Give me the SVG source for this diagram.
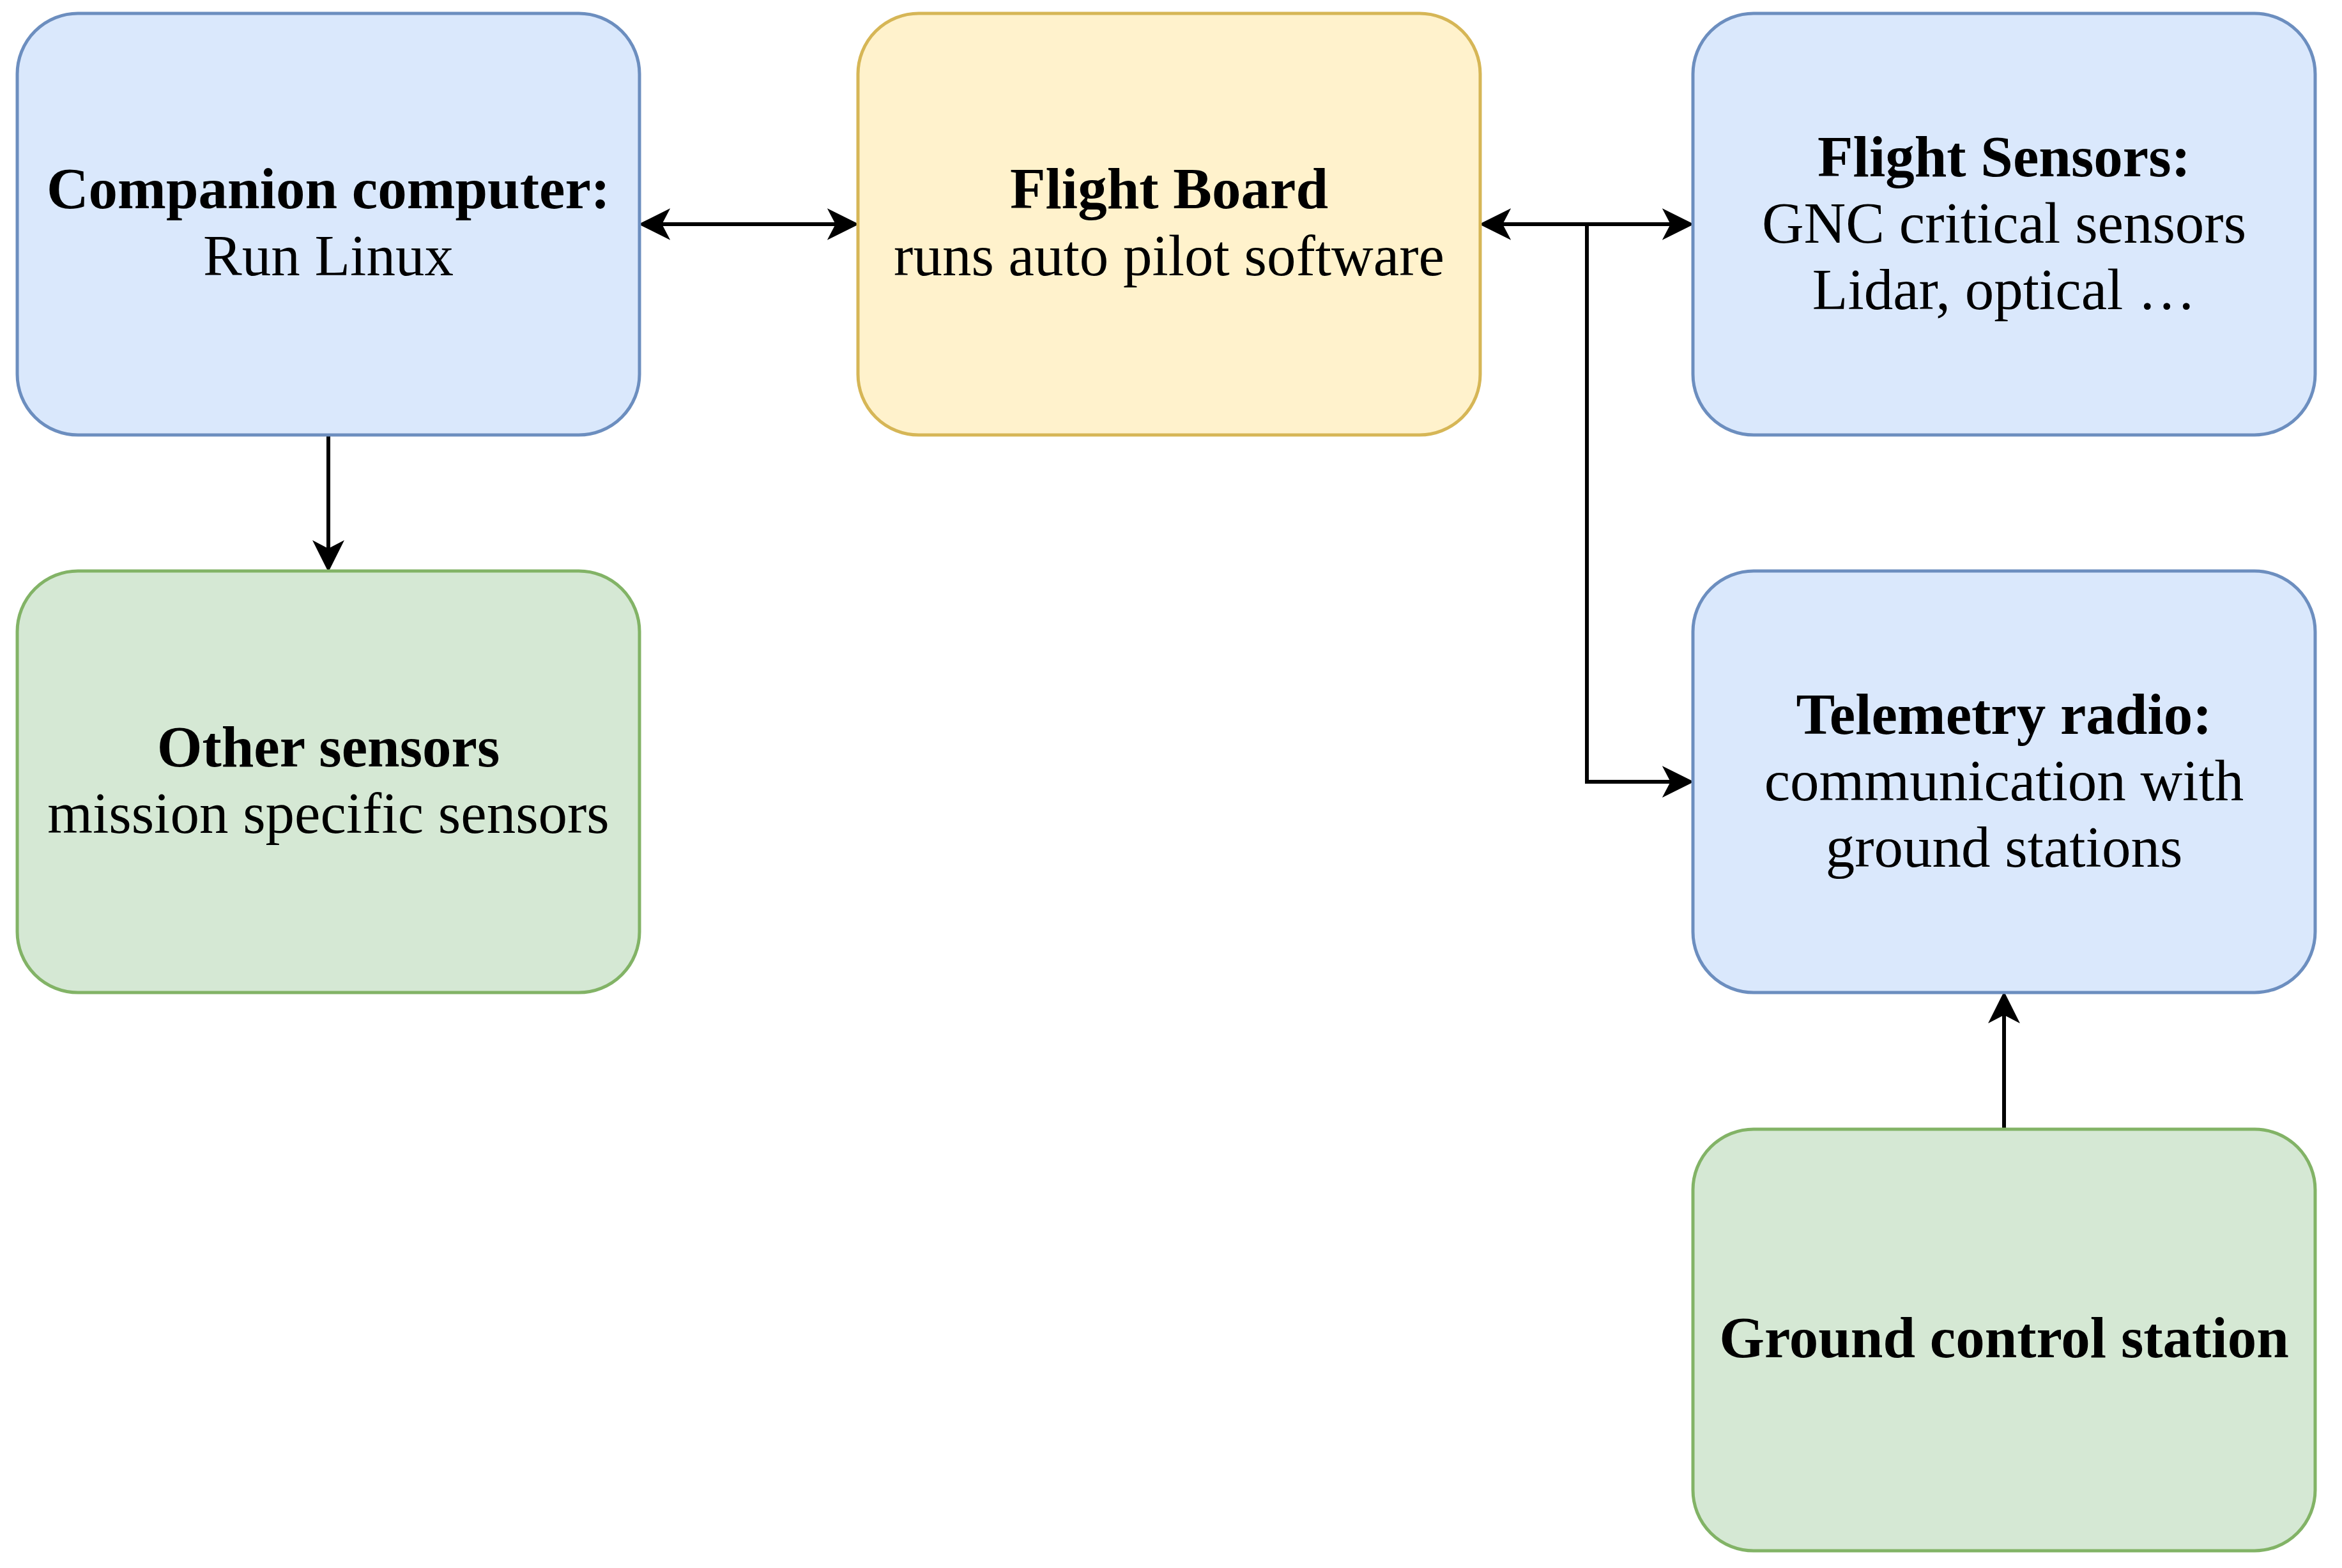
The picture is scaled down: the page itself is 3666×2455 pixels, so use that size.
<svg xmlns="http://www.w3.org/2000/svg" width="3666" height="2455" viewBox="0 0 3666 2455">
  <style>
    .box { stroke-width: 5; }
    .blue { fill: #dae8fc; stroke: #6c8ebf; }
    .yellow { fill: #fff2cc; stroke: #d6b656; }
    .green { fill: #d5e8d4; stroke: #82b366; }
    text { font-family: "Liberation Serif", "Times New Roman", serif; font-size: 91px; fill: #000; text-anchor: middle; }
    .b { font-weight: bold; }
    .edge { fill: none; stroke: #000; stroke-width: 6; }
  </style>
  <defs>
    <marker id="arrow" markerUnits="userSpaceOnUse" markerWidth="50" markerHeight="50" viewBox="0 0 46 46" refX="26" refY="23" orient="auto-start-reverse">
      <path d="M0,0 L46,23 L0,46 L12,23 Z" fill="#000"/>
    </marker>
  </defs>
  <rect width="3666" height="2455" fill="#ffffff"/>

  <g id="connectors">
    <line class="edge" x1="1021" y1="351" x2="1323" y2="351" marker-start="url(#arrow)" marker-end="url(#arrow)"/>
    <line class="edge" x1="2337" y1="351" x2="2630" y2="351" marker-start="url(#arrow)" marker-end="url(#arrow)"/>
    <path class="edge" d="M2484,351 V1224 H2630" marker-end="url(#arrow)"/>
    <line class="edge" x1="514" y1="681" x2="514" y2="874" marker-end="url(#arrow)"/>
    <line class="edge" x1="3137" y1="1768" x2="3137" y2="1574" marker-end="url(#arrow)"/>
  </g>

  <g id="companion">
    <rect class="box blue" x="27" y="21" width="974" height="660" rx="95" ry="95"/>
    <text x="514" y="326" class="b">Companion computer:</text>
    <text x="514" y="431">Run Linux</text>
  </g>

  <g id="flight-board">
    <rect class="box yellow" x="1343" y="21" width="974" height="660" rx="95" ry="95"/>
    <text x="1830" y="326" class="b">Flight Board</text>
    <text x="1830" y="431">runs auto pilot software</text>
  </g>

  <g id="flight-sensors">
    <rect class="box blue" x="2650" y="21" width="974" height="660" rx="95" ry="95"/>
    <text x="3137" y="276" class="b">Flight Sensors:</text>
    <text x="3137" y="380">GNC critical sensors</text>
    <text x="3137" y="484">Lidar, optical …</text>
  </g>

  <g id="other-sensors">
    <rect class="box green" x="27" y="894" width="974" height="660" rx="95" ry="95"/>
    <text x="514" y="1200" class="b">Other sensors</text>
    <text x="514" y="1304">mission specific sensors</text>
  </g>

  <g id="telemetry">
    <rect class="box blue" x="2650" y="894" width="974" height="660" rx="95" ry="95"/>
    <text x="3137" y="1149" class="b">Telemetry radio:</text>
    <text x="3137" y="1253">communication with</text>
    <text x="3137" y="1357">ground stations</text>
  </g>

  <g id="ground-control">
    <rect class="box green" x="2650" y="1768" width="974" height="660" rx="95" ry="95"/>
    <text x="3137" y="2125" class="b">Ground control station</text>
  </g>
</svg>
